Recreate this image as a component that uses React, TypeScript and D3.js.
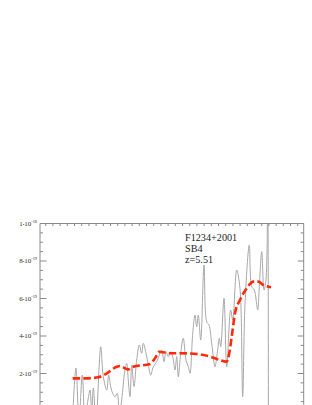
import React from "react";
import * as d3 from "d3";

// Observed wavelength (Å) and flux (units of 1e-19 erg/s/cm2/Å) of the spectrum
const specWave = [6844, 6891, 6932, 6977, 7014, 7055, 7083, 7106, 7128, 7164, 7229, 7264, 7311, 7338, 7365, 7392, 7424, 7455, 7483, 7515, 7560, 7584, 7605, 7629, 7652, 7683, 7720, 7756, 7788, 7810, 7847, 7879, 7911, 7947, 7993, 8029, 8061, 8093, 8120, 8152, 8184, 8212, 8243, 8266, 8288, 8321, 8356, 8393, 8425, 8448, 8485, 8516, 8539, 8561, 8594, 8639, 8676, 8707, 8744, 8789, 8820, 8848, 8867, 8912, 8949, 9003, 9031, 9085, 9130, 9167, 9199, 9257, 9290, 9326, 9372, 9394, 9427, 9458, 9485, 9509, 9517];
const specFlux = [-0.48, 2.29, -0.48, 1.92, -0.48, 0.59, 1.12, -0.05, 1.23, -0.48, 3.43, 1.83, 1.12, 1.92, 1.30, 0.94, 0.76, 0.94, -0.21, 0.59, 2.19, 2.54, 1.65, 0.76, 2.45, 1.30, 2.72, 3.52, 3.08, 3.61, 3.08, 2.45, 1.92, 2.36, 2.63, 2.99, 3.25, 2.63, 3.16, 2.90, 3.16, 2.90, 2.19, 2.90, 1.83, 3.08, 3.88, 2.72, 2.36, 2.01, 4.14, 5.12, 4.50, 5.12, 3.79, 7.79, 4.75, 4.59, 3.61, 2.36, 3.08, 3.88, 3.43, 6.01, 2.36, 5.39, 4.85, 7.52, 6.54, 0.76, 5.74, 8.85, 6.63, 6.45, 5.39, 6.63, 8.50, 6.45, 6.99, 11.25, -1.55];

// Smoothed model / template (red dashed)
const modelWave = [6846, 7014, 7196, 7311, 7447, 7492, 7560, 7605, 7674, 7902, 7970, 8029, 8106, 8175, 8311, 8584, 8721, 8830, 8949, 8984, 9017, 9062, 9130, 9222, 9312, 9380, 9448, 9554];
const modelFlux = [1.74, 1.74, 1.80, 2.01, 2.36, 2.40, 2.28, 2.22, 2.36, 2.51, 2.81, 3.16, 3.12, 3.08, 3.08, 3.02, 2.90, 2.75, 2.63, 3.08, 3.96, 5.21, 5.92, 6.54, 6.90, 6.90, 6.72, 6.60];

const yMajorTicks = [10, 8, 6, 4, 2];
const yMajorMantissa = ["1", "8", "6", "4", "2"];
const yMajorExp = ["-18", "-19", "-19", "-19", "-19"];
const annotation = ["F1234+2001", "SB4", "z=5.51"];

const UNIT = 1e-19;

export default function App() {
  const W = 312;
  const H = 405;
  const left = 40;
  const right = 303.7;
  const top = 223.5;
  const bottom = 430;

  const x = d3.scaleLinear().domain([6400, 10000]).range([left, right]);
  const y = d3.scaleLinear().domain([0, 1e-18]).range([411, top]);

  const spec = specWave.map((w, i) => [w, specFlux[i] * UNIT] as [number, number]);
  const model = modelWave.map((w, i) => [w, modelFlux[i] * UNIT] as [number, number]);

  const grayLine = d3
    .line<[number, number]>()
    .x((d) => x(d[0]))
    .y((d) => y(d[1]))
    .curve(d3.curveCatmullRom.alpha(0.5));
  const redLine = d3
    .line<[number, number]>()
    .x((d) => x(d[0]))
    .y((d) => y(d[1]))
    .curve(d3.curveMonotoneX);

  const yMinor = d3.range(0, 10.01, 0.5).map((v) => v * UNIT);
  const topTicks = d3.range(6478, 10000, 98.3);

  const axisColor = "#8a8a8a";

  return (
    <svg
      width={W}
      height={H}
      style={{ position: "absolute", left: 0, top: 0, background: "#fff" }}
      fontFamily="'Liberation Serif', 'Times New Roman', serif"
    >
      <defs>
        <clipPath id="plotClip">
          <rect x={left} y={top} width={right - left} height={bottom - top} />
        </clipPath>
      </defs>
      <rect width={W} height={H} fill="#fff" />

      <g clipPath="url(#plotClip)">
        <path d={grayLine(spec) || ""} fill="none" stroke="#a8a8a8" strokeWidth={1} />
        <path
          d={redLine(model) || ""}
          fill="none"
          stroke="#ff2a0a"
          strokeWidth={2.6}
          strokeDasharray="7.5 3.2"
        />
      </g>

      {/* frame */}
      <line x1={left} x2={left} y1={top} y2={H + 10} stroke={axisColor} strokeWidth={1} />
      <line x1={right} x2={right} y1={top} y2={H + 10} stroke={axisColor} strokeWidth={1} />
      <line x1={left} x2={right} y1={top} y2={top} stroke={axisColor} strokeWidth={1} />

      {/* y ticks */}
      {yMinor.map((v, i) => {
        const major = i % 4 === 0;
        const yy = y(v);
        return (
          <g key={"ym" + i}>
            <line x1={left} x2={left + (major ? 6.5 : 3)} y1={yy} y2={yy} stroke={axisColor} strokeWidth={1} />
            <line x1={right} x2={right - (major ? 6 : 3)} y1={yy} y2={yy} stroke={axisColor} strokeWidth={1} />
          </g>
        );
      })}

      {/* top ticks */}
      {topTicks.map((t, i) => (
        <line key={"tt" + i} x1={x(t)} x2={x(t)} y1={top} y2={top + 2.5} stroke={axisColor} strokeWidth={1} />
      ))}

      {/* y labels */}
      {yMajorTicks.map((v, i) => (
        <text
          key={"yl" + i}
          x={37}
          y={y(v * UNIT) + 2.4}
          textAnchor="end"
          fontSize={7}
          fill="#333"
        >
          {yMajorMantissa[i]}
          <tspan fontSize={4.5}>•</tspan>
          10
          <tspan fontSize={4.3} dy={-3}>
            {yMajorExp[i]}
          </tspan>
        </text>
      ))}

      {/* annotation */}
      {annotation.map((s, i) => (
        <text key={"an" + i} x={185} y={240.5 + i * 11.2} fontSize={10.2} fill="#222">
          {s}
        </text>
      ))}
    </svg>
  );
}
